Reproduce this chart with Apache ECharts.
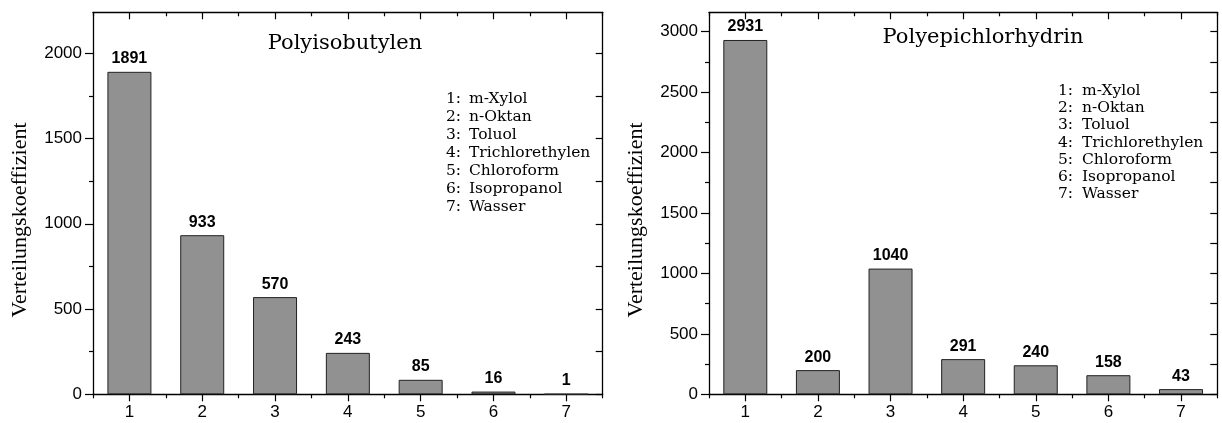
<!DOCTYPE html>
<html>
<head>
<meta charset="utf-8">
<script src="https://cdn.jsdelivr.net/npm/echarts@6/dist/echarts.min.js"></script>
<style>
  html, body { margin: 0; padding: 0; background: #ffffff; }
  #chart { width: 1222px; height: 423px; }
</style>
</head>
<body>
<div id="chart"></div>
<script>
// Solvent index and names
const categories = ['1', '2', '3', '4', '5', '6', '7'];
const solvents = ['m-Xylol', 'n-Oktan', 'Toluol', 'Trichlorethylen', 'Chloroform', 'Isopropanol', 'Wasser'];

// Partition coefficients per polymer
const pibValues = [1891, 933, 570, 243, 85, 16, 1];
const pechValues = [2931, 200, 1040, 291, 240, 158, 43];

const pibTitle = 'Polyisobutylen';
const pechTitle = 'Polyepichlorhydrin';
const yName = 'Verteilungskoeffizient';

// Value-axis ranges and tick positions
const pibMax = 2240;
const pibMajorTicks = [0, 500, 1000, 1500, 2000];
const pibMinorTicks = [250, 750, 1250, 1750];
const pechMax = 3160;
const pechMajorTicks = [0, 500, 1000, 1500, 2000, 2500, 3000];
const pechMinorTicks = [250, 750, 1250, 1750, 2250, 2750];

const INK = '#000000';
const axisLineStyle = { color: INK, width: 1.3 };
const tickLineStyle = { color: INK, width: 1.2 };
const tickFont = { color: INK, fontFamily: 'Liberation Sans', fontSize: 17 };

function xAxesFor(g) {
  const base = {
    type: 'category', data: categories, gridIndex: g, boundaryGap: true,
    splitLine: { show: false }
  };
  return [
    { ...base, position: 'bottom',
      axisLine: { show: true, onZero: false, lineStyle: axisLineStyle },
      axisTick: { show: true, interval: 0, alignWithLabel: true, length: 7, lineStyle: tickLineStyle },
      axisLabel: { show: true, interval: 0, margin: 10, ...tickFont } },
    { ...base, position: 'bottom',
      axisLine: { show: false, onZero: false },
      axisTick: { show: true, interval: 0, alignWithLabel: false, length: 4, lineStyle: tickLineStyle },
      axisLabel: { show: false } },
    { ...base, position: 'top',
      axisLine: { show: true, onZero: false, lineStyle: axisLineStyle },
      axisTick: { show: true, interval: 0, alignWithLabel: true, inside: true, length: 7, lineStyle: tickLineStyle },
      axisLabel: { show: false } },
    { ...base, position: 'top',
      axisLine: { show: false, onZero: false },
      axisTick: { show: true, interval: 0, alignWithLabel: false, inside: true, length: 4, lineStyle: tickLineStyle },
      axisLabel: { show: false } }
  ];
}

function yAxesFor(g, max, major, minor) {
  const base = { type: 'value', gridIndex: g, min: 0, max: max, splitLine: { show: false } };
  return [
    { ...base, position: 'left',
      axisLine: { show: true, onZero: false, lineStyle: axisLineStyle },
      axisTick: { show: true, length: 8, customValues: major, lineStyle: tickLineStyle },
      axisLabel: { show: true, margin: 11, customValues: major, formatter: v => String(v), ...tickFont } },
    { ...base, position: 'left',
      axisLine: { show: false, onZero: false },
      axisTick: { show: true, length: 4, customValues: minor, lineStyle: tickLineStyle },
      axisLabel: { show: false } },
    { ...base, position: 'right',
      axisLine: { show: true, onZero: false, lineStyle: axisLineStyle },
      axisTick: { show: true, inside: true, length: 7, customValues: major.concat(minor), lineStyle: tickLineStyle },
      axisLabel: { show: false } }
  ];
}

function barSeries(values, xi, yi) {
  return {
    type: 'bar', xAxisIndex: xi, yAxisIndex: yi, data: values, barWidth: 44,
    itemStyle: { color: '#919191', borderColor: '#222222', borderWidth: 1 },
    label: {
      show: true, position: 'top', distance: 5, color: INK,
      fontFamily: 'Liberation Sans', fontWeight: 'bold', fontSize: 16
    }
  };
}

// Numbered solvent list drawn as two text columns
function keyList(xKey, xName, y0, step) {
  const items = [];
  categories.forEach((c, i) => {
    const y = y0 + i * step;
    items.push({ type: 'text', x: xKey, y: y, silent: true,
      style: { text: c + ':', fill: INK, font: '15.5px "DejaVu Serif"', textAlign: 'left', textVerticalAlign: 'middle' } });
    items.push({ type: 'text', x: xName, y: y, silent: true,
      style: { text: solvents[i], fill: INK, font: '15.5px "DejaVu Serif"', textAlign: 'left', textVerticalAlign: 'middle' } });
  });
  return items;
}

function titleText(text, x, y, size) {
  return { type: 'text', x: x, y: y, silent: true,
    style: { text: text, fill: INK, font: size + 'px "DejaVu Serif"', textAlign: 'center', textVerticalAlign: 'middle' } };
}

function yNameText(x, y) {
  return { type: 'text', x: x, y: y, rotation: Math.PI / 2, silent: true,
    style: { text: yName, fill: INK, font: '22px "Liberation Serif"', textAlign: 'center', textVerticalAlign: 'middle' } };
}

const chart = echarts.init(document.getElementById('chart'), null, { renderer: 'canvas' });
chart.setOption({
  animation: false,
  backgroundColor: '#ffffff',
  grid: [
    { left: 93, top: 12.3, right: 619.3, bottom: 28.7, containLabel: false },
    { left: 709, top: 12.3, right: 4.7, bottom: 28.7, containLabel: false }
  ],
  xAxis: xAxesFor(0).concat(xAxesFor(1)),
  yAxis: yAxesFor(0, pibMax, pibMajorTicks, pibMinorTicks)
    .concat(yAxesFor(1, pechMax, pechMajorTicks, pechMinorTicks)),
  series: [
    barSeries(pibValues, 0, 0),
    barSeries(pechValues, 4, 3)
  ],
  graphic: [
    titleText(pibTitle, 345, 44, 21),
    titleText(pechTitle, 983, 38, 21),
    yNameText(20, 220),
    yNameText(636, 220)
  ].concat(keyList(446, 469, 99, 18.07), keyList(1058, 1082, 91, 17.2))
});
</script>
</body>
</html>
